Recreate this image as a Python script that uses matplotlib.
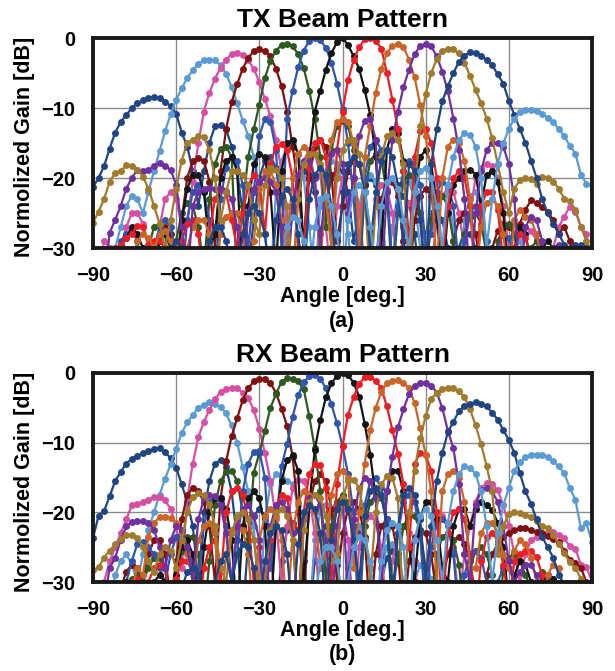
import numpy as np
import matplotlib
matplotlib.use('Agg')
from matplotlib import pyplot as plt

# measured angles, 2 deg step
angles = list(range(-90, 91, 2))

beam_colors = ['#1F4584', '#5B9BD5', '#D64FA5', '#7F1111', '#2F5A1F', '#2E55B2',
               '#151515', '#EE1C24', '#CB6527', '#7030A0', '#A27A2C', '#1F4584', '#5B9BD5']

# ---------------- TX beams (dB) ----------------
tx_b1 = [-21.3, -20, -18.3, -15.8, -13.5, -12, -11, -10, -9.3, -8.9,
         -8.6, -8.4, -8.6, -9.1, -9.7, -10.8, -13.5, -15.5, -19, -24,
         -19, -15, -12.6, -12.4, -13, -15.5, -19, -25, -33, -26,
         -20, -17.5, -17, -18.5, -23, -30, -25, -20.5, -19, -19.5,
         -22, -28, -24, -20, -18.5, -19, -22, -29, -25, -21,
         -20, -21, -25, -33, -27, -23.5, -22.5, -23.5, -28, -35,
         -28, -25, -24.5, -26, -30, -35, -30, -27.5, -28, -30,
         -35, -33, -30, -30.5, -33, -35, -35, -35, -35, -35,
         -35, -35, -35, -35, -35, -33, -30, -29.5, -29.8, -30,
         -35]
tx_b2 = [-35, -35, -35, -33, -30, -27, -24, -22.5, -23, -25,
         -22, -19, -16.2, -13.3, -10.9, -8.8, -7.2, -5.7, -4.6, -3.7,
         -3.2, -3.1, -3.2, -3.9, -5.1, -7, -9.3, -11.8, -14, -17,
         -21, -28, -35, -22, -17.5, -15.5, -15, -16.5, -20, -27,
         -35, -24, -19, -17.5, -18, -21, -28, -35, -24, -20.5,
         -19.5, -20.5, -24, -33, -27, -22, -20, -20.5, -23, -30,
         -30, -23, -20.5, -20, -22, -27, -35, -26, -22.5, -22,
         -24, -30, -35, -35, -32, -29, -28, -29, -32, -35,
         -35, -35, -35, -35, -35, -35, -35, -35, -35, -35,
         -35]
tx_b3 = [-35, -35, -29, -30, -35, -30, -27, -25, -25, -26.5,
         -30, -35, -27, -23, -22, -23, -27, -26, -20.5, -15,
         -10.5, -7.8, -5.8, -4.3, -3.1, -2.3, -2.1, -2.4, -3.2, -4.4,
         -6.3, -8.7, -11.2, -14.5, -19, -27, -35, -22, -17.5, -16,
         -16.5, -19.5, -27, -35, -24, -20, -19, -20, -24, -33,
         -30, -23, -21, -21.5, -25, -35, -27, -23.5, -23, -25,
         -30, -33, -26, -22.5, -21.5, -22, -25, -30, -25, -20,
         -18.5, -18, -18.3, -20, -24, -30, -30, -28, -27, -27.5,
         -29, -31, -33, -30, -27, -25.5, -24.1, -24.8, -27, -28,
         -35]
tx_b4 = [-35, -35, -35, -35, -35, -35, -35, -35, -35, -35,
         -35, -33, -29, -27, -28, -33, -26, -20, -17.5, -17.2,
         -17.5, -20.5, -30, -19, -13, -9.2, -6.6, -4.4, -2.8, -1.9,
         -1.6, -1.8, -2.6, -4.4, -6.8, -10.5, -15.5, -21, -30, -20,
         -15.5, -14.5, -15.5, -19.5, -29, -24, -19, -17.5, -18, -21,
         -29, -33, -23, -20.5, -20.5, -22.5, -29, -35, -26, -22.5,
         -21.5, -22.5, -26, -33, -35, -29, -26, -25, -25.5, -28,
         -33, -35, -30, -27.5, -26.5, -27, -28, -26.5, -24.5, -23.2,
         -23.5, -24.2, -24.8, -26, -28, -27, -29, -32, -35, -35,
         -35]
tx_b5 = [-35, -35, -35, -35, -35, -35, -35, -35, -35, -35,
         -30, -27, -26.5, -28, -35, -29, -25, -23.5, -24, -27,
         -33, -23, -18, -15.8, -15.5, -17, -35, -24, -17, -13,
         -9.5, -5.7, -3.3, -1.8, -1, -0.8, -1.2, -2.3, -4.3, -7.5,
         -11.5, -17, -27, -16, -12.5, -11.8, -12.5, -16, -35, -22,
         -17.5, -16.5, -17.5, -22, -35, -25, -20.5, -19.5, -20.5, -25,
         -35, -26, -23, -22.5, -24, -29, -35, -28, -25.5, -25,
         -26.5, -31, -35, -29, -27, -26.5, -28, -33, -35, -30,
         -29, -29.5, -32, -35, -35, -35, -35, -35, -35, -35,
         -35]
tx_b6 = [-35, -35, -35, -35, -31, -29, -28, -27.5, -29, -33,
         -35, -30, -27, -26, -27, -31, -35, -26, -22, -21,
         -22, -26, -35, -23, -18.5, -17, -17.5, -21, -30, -22,
         -14, -11.5, -12, -16, -30, -11.5, -7.5, -4.2, -1.8, -0.4,
         0, -0.3, -1.4, -3.5, -6.5, -10.2, -15, -23, -33, -20,
         -15.5, -14.5, -16, -20.5, -33, -24, -19, -17.5, -18, -21,
         -30, -28, -22, -20.5, -21, -24, -33, -29, -25, -24,
         -25, -29, -35, -30, -28, -28.5, -31, -35, -35, -31,
         -30, -31, -35, -35, -35, -35, -35, -35, -35, -35,
         -35]
tx_b7 = [-35, -35, -35, -35, -32, -29.5, -28.5, -27, -28, -30,
         -35, -33, -29, -28, -30, -35, -26, -21.5, -19.5, -19.5,
         -22, -30, -28, -20, -17.5, -17, -19, -35, -24, -18,
         -16.5, -17, -22, -33, -19, -15, -14.5, -16.5, -30, -17,
         -10.5, -7.5, -4.5, -2.2, -0.6, 0, -1, -2.6, -4.4, -7.4,
         -11, -17, -30, -16, -13, -13.5, -17.5, -30, -22, -17,
         -16, -18, -24, -35, -25, -21, -20, -19, -18.8, -19.5,
         -24, -19.5, -19, -20.5, -25, -35, -30, -27, -28, -32,
         -35, -30, -29, -30, -33, -35, -35, -31, -32, -35,
         -35]
tx_b8 = [-35, -35, -35, -35, -30, -29.5, -28.5, -28, -26.8, -27,
         -29.5, -29, -29, -30, -33, -35, -29, -26.5, -26, -28,
         -35, -28, -23, -21.5, -22, -26, -30, -25, -21, -19.5,
         -20.5, -28, -18, -15.5, -15.2, -16, -20, -30, -30, -18.5,
         -15, -14.5, -17, -30, -16, -10.5, -6, -3.2, -1.3, -0.2,
         0, -0.4, -1.5, -5, -8.8, -13, -19, -30, -17, -13.3,
         -13, -15, -20, -32, -24, -20, -19, -20, -24, -35,
         -24, -22, -22, -24.5, -32, -35, -30, -28, -28.5, -32,
         -35, -35, -35, -35, -35, -35, -35, -35, -35, -35,
         -35]
tx_b9 = [-35, -35, -35, -35, -35, -35, -35, -32, -29, -28,
         -28.5, -30, -28, -27.5, -29, -32, -35, -30, -27, -26,
         -26, -28, -35, -28, -25.5, -25, -25, -28, -35, -29,
         -21.5, -19, -19, -21, -26, -30, -20, -16.5, -15.5, -16.5,
         -20, -33, -20, -14.5, -12, -11.5, -12, -15, -30, -17,
         -12.5, -7.8, -4.4, -2.2, -1.1, -0.9, -1.3, -3.1, -5.6, -9.5,
         -14, -20, -33, -20, -15.5, -14.5, -15, -17.5, -23, -35,
         -27, -23.5, -23, -24, -28, -35, -26, -24.5, -25.5, -26,
         -28, -32, -35, -33, -31, -30.5, -31.5, -33, -35, -35,
         -35]
tx_b10 = [-35, -35, -35, -27.8, -26, -24, -21.5, -20, -18.8, -19,
          -18.8, -18.3, -17.8, -18.3, -18.8, -21, -27, -35, -24, -22,
          -21.5, -21.4, -21.5, -21.6, -21.9, -23, -27, -35, -25, -21.5,
          -20.5, -20, -20.5, -22, -27, -35, -24, -19.5, -17.5, -17.5,
          -20, -30, -20, -16.5, -16, -18, -25, -20, -14, -11.8,
          -11.5, -14.5, -35, -22, -14.5, -10.5, -7, -4.5, -2.3, -1.2,
          -0.8, -1.2, -2.6, -4.8, -7.6, -11.5, -16, -23, -35, -25,
          -19, -16, -15, -15, -15.5, -18, -23, -35, -27, -25.5,
          -26, -29, -35, -30, -29.5, -31, -35, -35, -35, -35,
          -35]
tx_b11 = [-26.4, -24.8, -23, -20.5, -19.3, -19, -18.2, -18.3, -18.8, -19.8,
          -21.5, -24, -26.5, -30, -26, -21.5, -17.5, -15, -14.5, -14,
          -14.2, -16, -20, -26, -22, -19, -19, -19.5, -21, -26,
          -28, -21, -18.5, -18.8, -20, -24, -35, -23, -18, -16.5,
          -16.5, -18, -23, -30, -20, -16, -14.5, -14.5, -16.5, -22,
          -35, -24, -17, -14, -13.5, -14.5, -18, -35, -22, -12.5,
          -8, -5, -3, -1.8, -1.5, -1.6, -2.2, -3.5, -5.4, -7.4,
          -9.3, -11.5, -14.3, -18, -22, -25, -21.5, -20.3, -20, -20.2,
          -20.8, -19.8, -20, -20.5, -21.5, -23, -23.3, -24.5, -27, -29,
          -30.5]
tx_b12 = [-35, -35, -35, -35, -35, -35, -35, -35, -35, -35,
          -35, -35, -35, -33, -30, -29, -30, -33, -35, -35,
          -35, -29, -27, -27, -29, -33, -35, -28, -25, -24,
          -25, -28, -35, -26, -22.5, -21.5, -23, -28, -35, -23,
          -19.5, -18.5, -19.5, -24, -35, -22, -18, -17, -18, -22,
          -30, -22, -17.5, -16, -17, -21, -30, -18, -19, -26,
          -35, -18, -13, -9, -6.9, -5, -3.4, -2.5, -2, -2.1,
          -2.6, -3.1, -3.9, -5.2, -6.5, -9, -11, -13, -15, -17.5,
          -20, -23, -25, -26.5, -28, -29.5, -31, -30, -29.5, -30,
          -35]
tx_b13 = [-35, -35, -35, -35, -35, -35, -35, -35, -35, -35,
          -35, -35, -35, -35, -35, -35, -35, -35, -35, -35,
          -35, -35, -35, -35, -35, -35, -35, -35, -35, -35,
          -35, -35, -35, -35, -32, -27, -25.5, -26, -29, -35,
          -27, -23, -22.5, -24, -28, -35, -26, -22, -21, -22,
          -27, -33, -24, -20.5, -20, -21.5, -26, -30, -22, -19,
          -18.5, -20, -24, -30, -21, -17, -14.5, -13.6, -13.8, -15.5,
          -20, -30, -23, -18, -15, -13, -11.5, -10.6, -10.3, -10.3,
          -10.4, -10.8, -11.4, -12, -13, -14, -15.4, -16.5, -19.5, -20.8,
          -21]

# ---------------- RX beams (dB) ----------------
rx_b1 = [-23.7, -20.5, -19.8, -17.7, -15.5, -14.2, -13, -12.3, -11.9, -11.5,
         -11.2, -10.9, -10.8, -11.4, -12.2, -13.6, -16, -18.5, -22, -30,
         -20, -15.5, -13, -12.5, -13.5, -17, -24, -35, -24, -20.5,
         -19.5, -20.5, -24.5, -35, -27, -22.5, -21.5, -22.5, -27, -35,
         -27, -23, -22, -23, -27.5, -35, -28, -24, -23, -24,
         -28, -35, -30, -26.5, -25.5, -26.5, -30, -35, -35, -32,
         -30, -29.5, -31, -35, -35, -35, -35, -35, -35, -35,
         -35, -35, -35, -35, -35, -35, -35, -35, -35, -35,
         -35, -30, -29.5, -29.5, -31, -35, -35, -35, -35, -35,
         -35]
rx_b2 = [-35, -35, -35, -33, -29, -27, -26, -27.5, -30, -26,
         -22.5, -20, -17.5, -15.2, -13.1, -10.9, -8.6, -7.1, -6, -5,
         -4.6, -4.2, -4.4, -4.9, -5.8, -7.5, -10, -13.5, -17, -22,
         -35, -21, -16, -14.5, -15, -15.5, -16, -19, -26, -35,
         -24, -20, -19, -20.5, -25, -35, -26, -22.5, -22, -23.5,
         -28, -35, -28, -25, -24.5, -26, -30, -35, -30, -27.5,
         -27.5, -29.5, -35, -35, -35, -35, -35, -35, -35, -35,
         -35, -35, -35, -35, -35, -35, -35, -35, -35, -35,
         -35, -35, -35, -35, -35, -35, -35, -35, -35, -35,
         -35]
rx_b3 = [-35, -35, -30, -27, -25, -23, -21, -19, -18.8, -18.5,
         -18.2, -17.8, -17.8, -18.3, -19.5, -22, -28, -18, -13, -9.2,
         -7, -5.3, -3.8, -2.7, -2.3, -2.1, -2.2, -2.8, -3.6, -5.3,
         -8, -11.5, -15.5, -21, -30, -22, -16.5, -15.3, -15.5, -17.5,
         -23, -35, -24, -19.5, -18.5, -19.5, -24, -35, -25, -21,
         -20.5, -21.5, -25, -35, -27, -23, -22, -23, -27, -35,
         -28, -23, -21, -20.5, -21.5, -25, -33, -26, -22, -18.5,
         -16.5, -15.8, -16, -16.8, -19, -22, -26, -30, -26, -24,
         -23.5, -23.2, -23, -22.8, -23.2, -23.7, -24.9, -25.2, -27.5, -27.8,
         -30]
rx_b4 = [-35, -35, -35, -35, -35, -31, -28.5, -27.5, -28, -30,
         -26, -24, -24, -26, -33, -27, -21, -17.5, -16.5, -17,
         -18.5, -22, -30, -18, -12.7, -9.1, -6.5, -3.9, -2.2, -1.2,
         -0.9, -0.9, -1.5, -2.8, -5.1, -7.6, -12, -20, -33, -19,
         -15.5, -14.5, -15.5, -19.5, -30, -23, -19.5, -18.5, -19.5, -23.5,
         -35, -26, -22, -21, -22, -26, -35, -27, -23.5, -22.5,
         -23, -26, -32, -30, -26, -24, -23.5, -24.5, -27, -32,
         -35, -29, -26, -24.5, -23.5, -23, -22.5, -22.3, -22.3, -22.6,
         -22.8, -23, -23.4, -23.8, -24.3, -25.5, -26.8, -27.3, -28, -30,
         -35]
rx_b5 = [-35, -35, -35, -35, -35, -35, -32, -29.5, -29, -30,
         -28, -26.5, -26.5, -28, -35, -30, -25.5, -23.5, -23.5, -26,
         -35, -27, -19, -15.5, -14.2, -14, -15.5, -20, -24, -14.3,
         -11.5, -8.3, -5, -3, -1.3, -0.7, -0.8, -1.2, -2.3, -6.2,
         -10.8, -17, -30, -22, -18.5, -17.5, -18.5, -22, -35, -22,
         -18.5, -17.5, -18, -21, -30, -27, -22, -20.5, -20.5, -22.5,
         -28, -35, -26, -23.5, -23, -24, -27.5, -35, -28, -25.5,
         -25, -26, -29, -35, -28.5, -26.5, -26, -27, -29, -31,
         -33, -28.5, -29, -31, -35, -35, -35, -35, -35, -35,
         -35]
rx_b6 = [-35, -35, -35, -35, -35, -35, -30, -27, -24.5, -24.2,
         -25, -26, -28, -30, -26, -23.5, -23, -24, -28, -30,
         -22, -18.5, -17.8, -18.5, -22, -30, -26, -17, -13, -11.3,
         -11.2, -15, -28, -22, -13.4, -10.2, -6.3, -3.2, -1.3, -0.5,
         -0.35, -0.8, -2.2, -4.5, -7.2, -10.5, -14.5, -20, -35, -19,
         -15.5, -15, -16.5, -21, -35, -23, -18.5, -17.5, -18.5, -23,
         -35, -25, -21.5, -21, -22, -26, -35, -29, -26, -25.5,
         -26.5, -30, -35, -30, -28, -28, -30, -35, -35, -35,
         -35, -35, -35, -35, -35, -35, -35, -35, -35, -35,
         -35]
rx_b7 = [-35, -35, -35, -35, -35, -33, -30, -30, -32, -35,
         -33, -30, -29, -30, -35, -29, -25, -24, -26, -35,
         -25, -20, -18, -18, -19.5, -24, -35, -22, -18, -17,
         -18, -22, -35, -22, -15.5, -12.5, -11.8, -14, -30, -19,
         -11, -6.8, -3.5, -1.5, -0.4, 0, -0.3, -1.4, -3.4, -7.3,
         -11.7, -18, -30, -17, -14, -14, -17, -25, -30, -21,
         -18.5, -18.5, -21, -28, -30, -22, -19.5, -19.5, -22, -19.5,
         -18.5, -19, -19.7, -21.5, -25, -33, -29, -27, -27.5, -30,
         -35, -30, -29, -29.5, -32, -35, -35, -35, -35, -35,
         -35]
rx_b8 = [-35, -35, -35, -35, -35, -35, -35, -30, -29.5, -35,
         -30, -28, -27.5, -28, -33, -29.5, -27, -27, -28.5, -35,
         -28, -25, -24, -30, -20, -17, -16.5, -17.5, -21, -30,
         -25, -35, -24, -19, -17.5, -18, -22, -35, -20, -14.5,
         -13, -13.2, -16.5, -30, -16, -10.5, -6, -3.5, -1.6, -0.6,
         -0.6, -1.1, -2.2, -4.8, -8.2, -11.6, -16, -25, -13, -11.5,
         -11.8, -14, -20, -35, -23, -20, -19.5, -21, -26, -35,
         -27, -23.5, -23, -24, -27.5, -33, -27, -26, -25.5, -25.6,
         -26.4, -29, -33, -35, -35, -35, -35, -35, -35, -35,
         -35]
rx_b9 = [-35, -35, -35, -35, -35, -35, -35, -31, -28, -29,
         -23.5, -21.5, -20.7, -20.6, -20.8, -21.5, -23, -26, -30, -24,
         -22, -21.5, -23, -35, -26, -22.5, -21.5, -22.5, -26, -35,
         -24, -20.5, -19.5, -20.5, -24, -35, -23, -18.5, -17, -17.5,
         -20, -28, -26, -17.5, -14.5, -14, -15, -28, -20, -13,
         -8.2, -5, -2.7, -1.5, -1.1, -1, -1.4, -2.2, -4.3, -7.9,
         -11.7, -17, -30, -17, -14.5, -14, -15, -18.5, -28, -28,
         -23, -21.5, -21.5, -23, -26, -28, -25.5, -24, -24.5, -26.5,
         -30, -35, -29, -27.5, -28, -31, -35, -35, -35, -35,
         -35]
rx_b10 = [-35, -35, -33, -28, -26.5, -24, -22, -21.4, -21.2, -21.3,
          -21.5, -22.5, -25, -28, -24, -22, -22.5, -25, -30, -21,
          -18, -17.5, -17.6, -19, -23, -30, -22, -19.5, -19, -20.5,
          -24, -35, -22, -19, -18.5, -19.5, -23, -35, -21, -18,
          -17.5, -19, -24, -35, -22, -18, -32, -21, -16.5, -15,
          -15.5, -18, -30, -17, -12, -7.8, -5.2, -3, -1.9, -1.4,
          -1.4, -1.8, -2.8, -5, -8.3, -10.8, -16, -26, -30, -19,
          -16.8, -16.5, -17, -18.5, -22, -27, -30, -28.5, -27.5, -27.5,
          -29, -32, -35, -35, -35, -35, -35, -35, -35, -35,
          -35]
rx_b11 = [-28.3, -27.9, -26.5, -25.5, -24.6, -23.8, -23.3, -23.2, -23.7, -25,
          -27, -28.5, -26, -25, -25.5, -28, -24, -20, -17.8, -17.2,
          -17.5, -18.8, -22, -28, -30, -23, -20.5, -20, -21, -24,
          -30, -30, -22.5, -20, -19.5, -20.5, -24, -35, -22.5, -18.5,
          -17.5, -18, -20.5, -27, -26, -18, -15.5, -15.3, -16.5, -21,
          -30, -20, -16, -14.8, -15, -18, -35, -20, -14, -9.4,
          -6.2, -3.7, -2.9, -2.3, -2.1, -2.2, -2.6, -3.5, -5.2, -7.5,
          -10.2, -13.4, -17, -26, -22, -20.2, -19.9, -20.1, -20.4, -20.6,
          -21.2, -21.9, -22.3, -23.2, -24.5, -25.8, -27.2, -28, -29.5, -30.5,
          -35]
rx_b12 = [-35, -35, -35, -35, -35, -35, -35, -35, -35, -35,
          -35, -35, -35, -35, -35, -35, -31, -28.5, -28, -29,
          -32, -35, -30, -27, -26, -30, -26, -24.5, -25, -28,
          -35, -27, -23, -22, -22.5, -26, -35, -24.5, -20, -19,
          -19.5, -23, -35, -24, -19.5, -18.5, -19.5, -24, -30, -20.5,
          -17, -16.5, -17.5, -22, -33, -22, -17.5, -16.5, -17.5, -21,
          -30, -22, -15.5, -11.5, -8.5, -7, -5.5, -4.8, -4.4, -4.2,
          -4.4, -4.8, -5.7, -6.7, -8.2, -9.6, -11.5, -14.4, -17, -18.8,
          -21, -23.5, -25, -26.5, -29, -30.5, -30.5, -31, -35, -35,
          -35]
rx_b13 = [-35, -35, -35, -35, -35, -35, -35, -35, -35, -35,
          -35, -35, -35, -35, -35, -35, -35, -35, -35, -35,
          -35, -35, -35, -35, -35, -35, -35, -35, -35, -35,
          -35, -35, -35, -35, -35, -35, -35, -35, -35, -33,
          -33, -27, -25, -25, -27, -33, -30, -25, -23.5, -24,
          -27, -35, -27, -22.5, -21.5, -22, -25, -35, -24, -20.5,
          -19.5, -20.5, -24, -30, -21.5, -17, -14.5, -13.4, -13.6, -14.5,
          -17, -22, -30, -23, -19, -16.5, -14, -12.8, -12.1, -11.8,
          -11.7, -11.8, -12.1, -12.7, -13.4, -14.4, -16.5, -18.2, -22.3, -21.6,
          -24.3]

tx_beams = [tx_b1, tx_b2, tx_b3, tx_b4, tx_b5, tx_b6, tx_b7,
            tx_b8, tx_b9, tx_b10, tx_b11, tx_b12, tx_b13]
rx_beams = [rx_b1, rx_b2, rx_b3, rx_b4, rx_b5, rx_b6, rx_b7,
            rx_b8, rx_b9, rx_b10, rx_b11, rx_b12, rx_b13]

W, H = 615, 671
font = 'Liberation Sans'
fig = plt.figure(figsize=(W / 100, H / 100), dpi=100)


def px(x, y):
    # pixel (from top-left) -> figure fraction
    return x / W, 1 - y / H


def draw_panel(beams, top, bottom, title, title_y, xlabel_y, tag, tag_y):
    left, right = 93, 592
    ax = fig.add_axes([left / W, 1 - bottom / H, (right - left) / W, (bottom - top) / H])
    for vals, col in zip(beams, beam_colors):
        ax.plot(angles, vals, color=col, lw=1.6, marker='o', ms=5.0,
                markeredgewidth=0, solid_joinstyle='round')
    ax.set_xlim(-90, 90)
    ax.set_ylim(-30, 0)
    ax.set_xticks([-90, -60, -30, 0, 30, 60, 90])
    ax.set_yticks([0, -10, -20, -30])
    ax.grid(True, color='#8a8a8a', lw=1.0)
    ax.set_axisbelow(True)
    ax.tick_params(length=0, pad=13, labelsize=14.5)
    for lab in ax.get_xticklabels() + ax.get_yticklabels():
        lab.set_fontfamily(font)
        lab.set_fontweight('bold')
    for sp in ax.spines.values():
        sp.set_linewidth(2.8)
        sp.set_color('#1a1a1a')
    cx = (left + right) / 2
    fig.text(*px(cx, title_y), title, ha='center', va='baseline',
             fontsize=19, fontweight='bold', family=font)
    fig.text(*px(cx, xlabel_y), 'Angle [deg.]', ha='center', va='baseline',
             fontsize=15.5, fontweight='bold', family=font)
    fig.text(*px(cx, tag_y), tag, ha='center', va='baseline',
             fontsize=15.5, fontweight='bold', family=font)
    fig.text(*px(25, (top + bottom) / 2 + 4), 'Normolized Gain [dB]', rotation=90,
             ha='center', va='center', fontsize=15.5, fontweight='bold', family=font)
    return ax


draw_panel(tx_beams, 38, 248, 'TX Beam Pattern', 27, 302, '(a)', 327)
draw_panel(rx_beams, 373, 582, 'RX Beam Pattern', 362, 636, '(b)', 660)

fig.savefig('out.png', dpi=100)
